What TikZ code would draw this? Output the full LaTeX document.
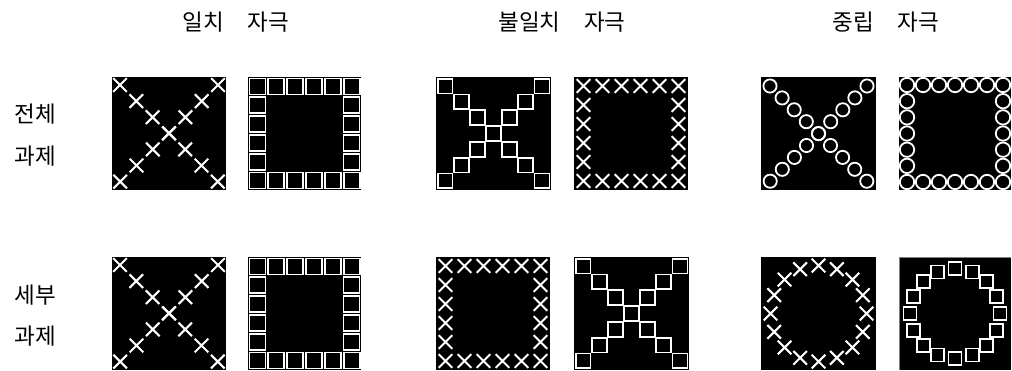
\documentclass[tikz,border=0pt]{standalone}
\usepackage{fontspec}
\newfontfamily\kr{Noto Sans CJK KR}
\tikzset{
  panel/.style={fill=black},
  mk/.style={draw=white, line width=1.8pt},
  mkx/.style={draw=white, line width=2.1pt},
  lbl/.style={font=\kr\fontsize{22.5}{26}\selectfont, inner sep=0pt, text=black},
  crossmark/.pic={\draw[mkx] (-6.8,-6.8)--(6.8,6.8) (-6.8,6.8)--(6.8,-6.8);},
}
\begin{document}
\begin{tikzpicture}[x=1pt,y=-1pt]
\useasboundingbox (0,0) rectangle (1012,370);
% headers
\node[lbl] (h1) at (236,22) {일치\hspace{1.05em}자극};
\node[lbl] (h2) at (562,22) {불일치\hspace{1.05em}자극};
\node[lbl] (h3) at (886,22) {중립\hspace{1.05em}자극};
% row labels
\node[lbl] (r1a) at (35,114) {전체};
\node[lbl] (r1b) at (35,156) {과제};
\node[lbl] (r2a) at (35,295) {세부};
\node[lbl] (r2b) at (35,336) {과제};
% ===== X of crosses (both rows, col 1) and square of squares (col 2)
\foreach \yy in {77,257}{
\begin{scope}[shift={(112,\yy)}]
  \clip (0,0) rectangle (114,113);
  \fill[panel] (0,0) rectangle (114,113);
  \foreach \i in {0,...,6}{
    \pic at ({8+16.3*\i},{8+16.1*\i}) {crossmark};
    \pic at ({106-16.3*\i},{8+16.1*\i}) {crossmark};
  }
\end{scope}
\begin{scope}[shift={(248,\yy)}]
  \clip (0,0) rectangle (113,113);
  \fill[panel] (0,0) rectangle (113,113);
  \foreach \i in {0,...,5}{
    \draw[mk] ({9.4+18.85*\i-8},1.5) rectangle ++(16,16);
    \draw[mk] ({9.4+18.85*\i-8},95.5) rectangle ++(16,16);
  }
  \foreach \i in {1,...,4}{
    \draw[mk] (1.5,{9.4+18.85*\i-8}) rectangle ++(16,16);
    \draw[mk] (95.5,{9.4+18.85*\i-8}) rectangle ++(16,16);
  }
\end{scope}
}
% ===== X of squares: row1 col3, row2 col4
\foreach \xx/\yy in {436/77,574/257}{
\begin{scope}[shift={(\xx,\yy)}]
  \clip (0,0) rectangle (115,113);
  \fill[panel] (0,0) rectangle (115,113);
  \foreach \i in {0,...,6}{
    \draw[mk] ({1.6+16.15*\i},{1.6+15.8*\i}) rectangle ++(14.9,14.9);
    \draw[mk] ({115-1.6-14.9-16.15*\i},{1.6+15.8*\i}) rectangle ++(14.9,14.9);
  }
\end{scope}
}
% ===== square of crosses: row1 col4, row2 col3
\foreach \xx/\yy in {574/77,436/257}{
\begin{scope}[shift={(\xx,\yy)}]
  \clip (0,0) rectangle (114,113);
  \fill[panel] (0,0) rectangle (114,113);
  \foreach \i in {0,...,5}{
    \pic at ({9.5+19*\i},9) {crossmark};
    \pic at ({9.5+19*\i},104) {crossmark};
  }
  \foreach \i in {1,...,4}{
    \pic at (9.5,{9+19*\i}) {crossmark};
    \pic at (104.5,{9+19*\i}) {crossmark};
  }
\end{scope}
}
% ===== X of circles: row1 col5
\begin{scope}[shift={(761,77)}]
  \clip (0,0) rectangle (115,113);
  \fill[panel] (0,0) rectangle (115,113);
  \foreach \i in {0,...,8}{
    \draw[mk] ({9+12.1*\i},{9+11.9*\i}) circle (6.6);
    \draw[mk] ({106-12.1*\i},{9+11.9*\i}) circle (6.6);
  }
\end{scope}
% ===== square of circles: row1 col6
\begin{scope}[shift={(899,77)}]
  \clip (0,0) rectangle (112,113);
  \fill[panel] (0,0) rectangle (112,113);
  \foreach \i in {0,...,6}{
    \draw[mk] ({8+16*\i},8) circle (7.2);
    \draw[mk] ({8+16*\i},105) circle (7.2);
  }
  \foreach \i in {1,...,5}{
    \draw[mk] (8,{8+16.17*\i}) circle (7.2);
    \draw[mk] (104,{8+16.17*\i}) circle (7.2);
  }
\end{scope}
% ===== circle of crosses: row2 col5
\begin{scope}[shift={(761,257)}]
  \clip (0,0) rectangle (115,113);
  \fill[panel] (0,0) rectangle (115,113);
  \foreach \k in {0,...,15}{
    \pic at ({57.5+48*cos(90+22.5*\k)},{56.5-48*sin(90+22.5*\k)}) {crossmark};
  }
\end{scope}
% ===== circle of squares: row2 col6
\begin{scope}[shift={(899,257)}]
  \clip (0,0) rectangle (112,113);
  \fill[panel] (0,0) rectangle (112,113);
  \draw[gray, line width=0.6pt] (0.3,113) -- (0.3,0.3) -- (112,0.3);
  \foreach \k in {0,...,15}{
    \draw[mk] ({56+45*cos(90+22.5*\k)-6.5},{56.5-45*sin(90+22.5*\k)-6.5}) rectangle ++(13,13);
  }
\end{scope}
\end{tikzpicture}
\end{document}
